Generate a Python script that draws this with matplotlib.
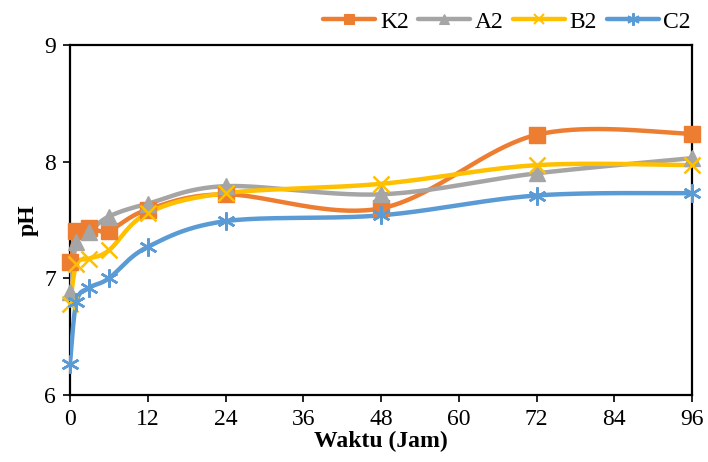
import numpy as np
import matplotlib.pyplot as plt
from matplotlib.lines import Line2D

plt.rcParams['font.family'] = ['Liberation Serif', 'DejaVu Serif']

# sampling time (hours) and pH per treatment
waktu = [0, 1, 3, 6, 12, 24, 48, 72, 96]
k2 = [7.14, 7.41, 7.43, 7.41, 7.59, 7.72, 7.60, 8.23, 8.24]
a2 = [6.88, 7.31, 7.40, 7.53, 7.64, 7.79, 7.72, 7.90, 8.03]
b2 = [6.78, 7.12, 7.17, 7.24, 7.56, 7.73, 7.81, 7.97, 7.97]
c2 = [6.27, 6.80, 6.92, 7.00, 7.27, 7.49, 7.54, 7.71, 7.73]

series = [
    ("K2", k2, "#ED7D31", "s", 11, 1.0),
    ("A2", a2, "#A5A5A5", "^", 11, 1.0),
    ("B2", b2, "#FFC000", "x", 11, 1.8),
    ("C2", c2, "#5B9BD5", (6, 2, 0), 13, 1.8),
]

XMAX, YMIN, YMAX = 96, 6, 9


def smooth(x, y, sx, sy, n=40):
    # Catmull-Rom style bezier through the points, computed in screen-ish units
    p = np.column_stack([np.asarray(x, float) * sx, np.asarray(y, float) * sy])
    p = np.vstack([p[0], p, p[-1]])
    t = np.linspace(0, 1, n)[:, None]
    out = []
    for i in range(1, len(p) - 2):
        p0, p1, p2, p3 = p[i - 1], p[i], p[i + 1], p[i + 2]
        c1 = p1 + (p2 - p0) / 6
        c2 = p2 - (p3 - p1) / 6
        seg = ((1 - t) ** 3) * p1 + 3 * ((1 - t) ** 2) * t * c1 + 3 * (1 - t) * t ** 2 * c2 + t ** 3 * p2
        out.append(seg if i == 1 else seg[1:])
    out = np.vstack(out)
    return out[:, 0] / sx, out[:, 1] / sy


fig = plt.figure(figsize=(7.08, 4.62), dpi=100)
ax = fig.add_axes([70 / 708, 1 - 395 / 462, 622 / 708, 350 / 462])

sx = 622 / XMAX
sy = 350 / (YMAX - YMIN)
handles = []
for name, vals, col, mk, ms, mew in series:
    xs, ys = smooth(waktu, vals, sx, sy)
    ax.plot(xs, ys, color=col, lw=3.2, solid_capstyle='round', zorder=3)
    ax.plot(waktu, vals, ls='none', marker=mk, ms=ms, color=col,
            mec=col, mew=mew, zorder=4, clip_on=False)
    handles.append(Line2D([], [], color=col, lw=3.2, marker=mk, ms=ms * 0.7,
                          mec=col, mew=mew * 0.8, solid_capstyle='round'))

ax.set_xlim(0, XMAX)
ax.set_ylim(YMIN, YMAX)
ax.set_xticks(np.arange(0, 97, 12))
ax.set_yticks([6, 7, 8, 9])
for s in ax.spines.values():
    s.set_linewidth(1.6)
    s.set_color('black')
ax.tick_params(direction='out', length=5, width=1.2, labelsize=17, pad=5)
ax.set_xlabel("Waktu (Jam)", fontsize=17, fontweight='bold', labelpad=1)
ax.set_ylabel("pH", fontsize=17, fontweight='bold', labelpad=4)

fig.legend(handles, ["K2", "A2", "B2", "C2"], loc='center right',
           bbox_to_anchor=(712 / 708, 1 - 22 / 462), ncol=4, frameon=False,
           fontsize=17, handlelength=2.2, columnspacing=0.4, handletextpad=0.2)

fig.savefig("out.png", dpi=100)
